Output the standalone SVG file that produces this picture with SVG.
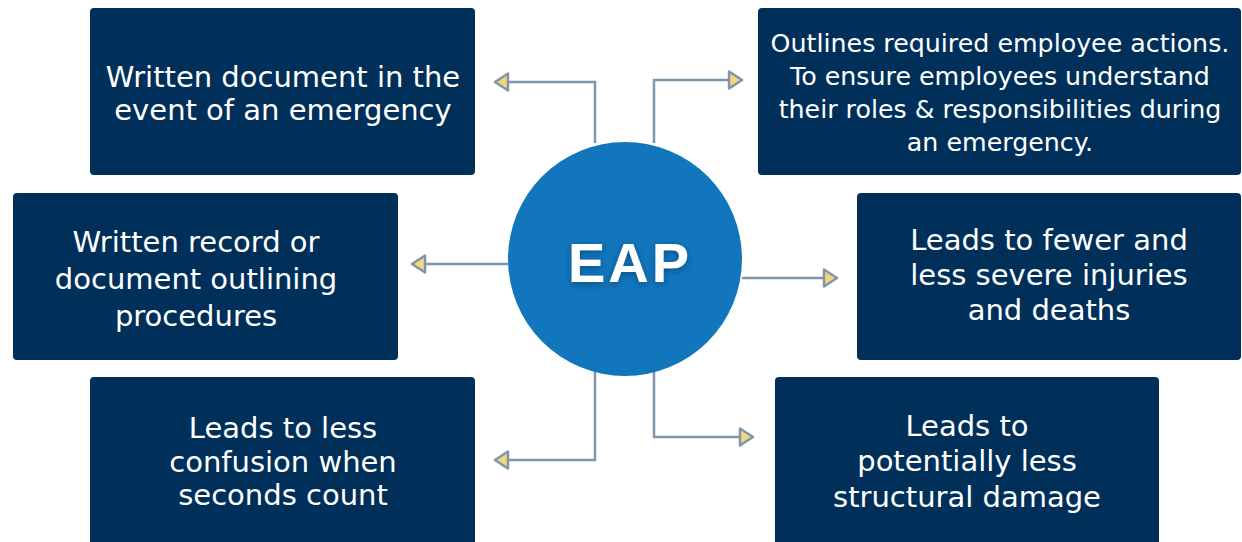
<svg xmlns="http://www.w3.org/2000/svg" width="1242" height="542" viewBox="0 0 1242 542">
  <defs>
    <style>
      .box { fill: #00305a; }
      .t { fill: #ffffff; font-family: "DejaVu Sans", "Open Sans", sans-serif; font-size: 29px; text-anchor: middle; }
      .s { font-size: 25.3px; }
      .conn { fill: none; stroke: #7f96ad; stroke-width: 2.5; marker-end: url(#arr); }
      .eap { fill: #ffffff; font-family: "Liberation Sans", Arial, sans-serif; font-weight: bold; font-size: 56px; text-anchor: middle; letter-spacing: 3px; }
    </style>
    <marker id="arr" markerUnits="userSpaceOnUse" markerWidth="20" markerHeight="20" refX="15" refY="10" orient="auto" viewBox="0 0 20 20">
      <path d="M2,1.5 L15,10 L2,18.5 Z" fill="#f4d67b" stroke="#7f96ad" stroke-width="2.5" stroke-linejoin="round"/>
    </marker>
    <filter id="sh" x="-20%" y="-20%" width="140%" height="160%">
      <feDropShadow dx="0" dy="2" stdDeviation="3" flood-color="#002040" flood-opacity="0.45"/>
    </filter>
  </defs>
  <rect width="1242" height="542" fill="#ffffff"/>

  <g id="connectors">
    <polyline class="conn" points="595,143 595,82 495,82"/>
    <polyline class="conn" points="654,143 654,80 742,80"/>
    <polyline class="conn" points="508,264 412,264"/>
    <polyline class="conn" points="742,278 837,278"/>
    <polyline class="conn" points="595,370 595,460 495,460"/>
    <polyline class="conn" points="654,370 654,437 753,437"/>
  </g>

  <g id="node-top-left">
    <rect class="box" x="90" y="8" width="385" height="167" rx="4"/>
    <text class="t" x="283" y="87">Written document in the</text>
    <text class="t" x="283" y="120">event of an emergency</text>
  </g>

  <g id="node-mid-left">
    <rect class="box" x="13" y="193" width="385" height="167" rx="4"/>
    <text class="t" x="196" y="252">Written record or</text>
    <text class="t" x="196" y="289">document outlining</text>
    <text class="t" x="196" y="326">procedures</text>
  </g>

  <g id="node-bottom-left">
    <rect class="box" x="90" y="377" width="385" height="175" rx="4"/>
    <text class="t" x="283" y="438">Leads to less</text>
    <text class="t" x="283" y="472">confusion when</text>
    <text class="t" x="283" y="505">seconds count</text>
  </g>

  <g id="node-top-right">
    <rect class="box" x="758" y="8" width="483" height="167" rx="4"/>
    <text class="t s" x="1000" y="52">Outlines required employee actions.</text>
    <text class="t s" x="1000" y="85">To ensure employees understand</text>
    <text class="t s" x="1000" y="118">their roles &amp; responsibilities during</text>
    <text class="t s" x="1000" y="151">an emergency.</text>
  </g>

  <g id="node-mid-right">
    <rect class="box" x="857" y="193" width="384" height="167" rx="4"/>
    <text class="t" x="1049" y="250">Leads to fewer and</text>
    <text class="t" x="1049" y="285">less severe injuries</text>
    <text class="t" x="1049" y="320">and deaths</text>
  </g>

  <g id="node-bottom-right">
    <rect class="box" x="775" y="377" width="384" height="175" rx="4"/>
    <text class="t" x="967" y="436">Leads to</text>
    <text class="t" x="967" y="471">potentially less</text>
    <text class="t" x="967" y="507">structural damage</text>
  </g>

  <g id="node-eap">
    <circle cx="625" cy="259" r="117" fill="#1176bb"/>
    <text class="eap" x="630" y="282" filter="url(#sh)">EAP</text>
  </g>
</svg>
